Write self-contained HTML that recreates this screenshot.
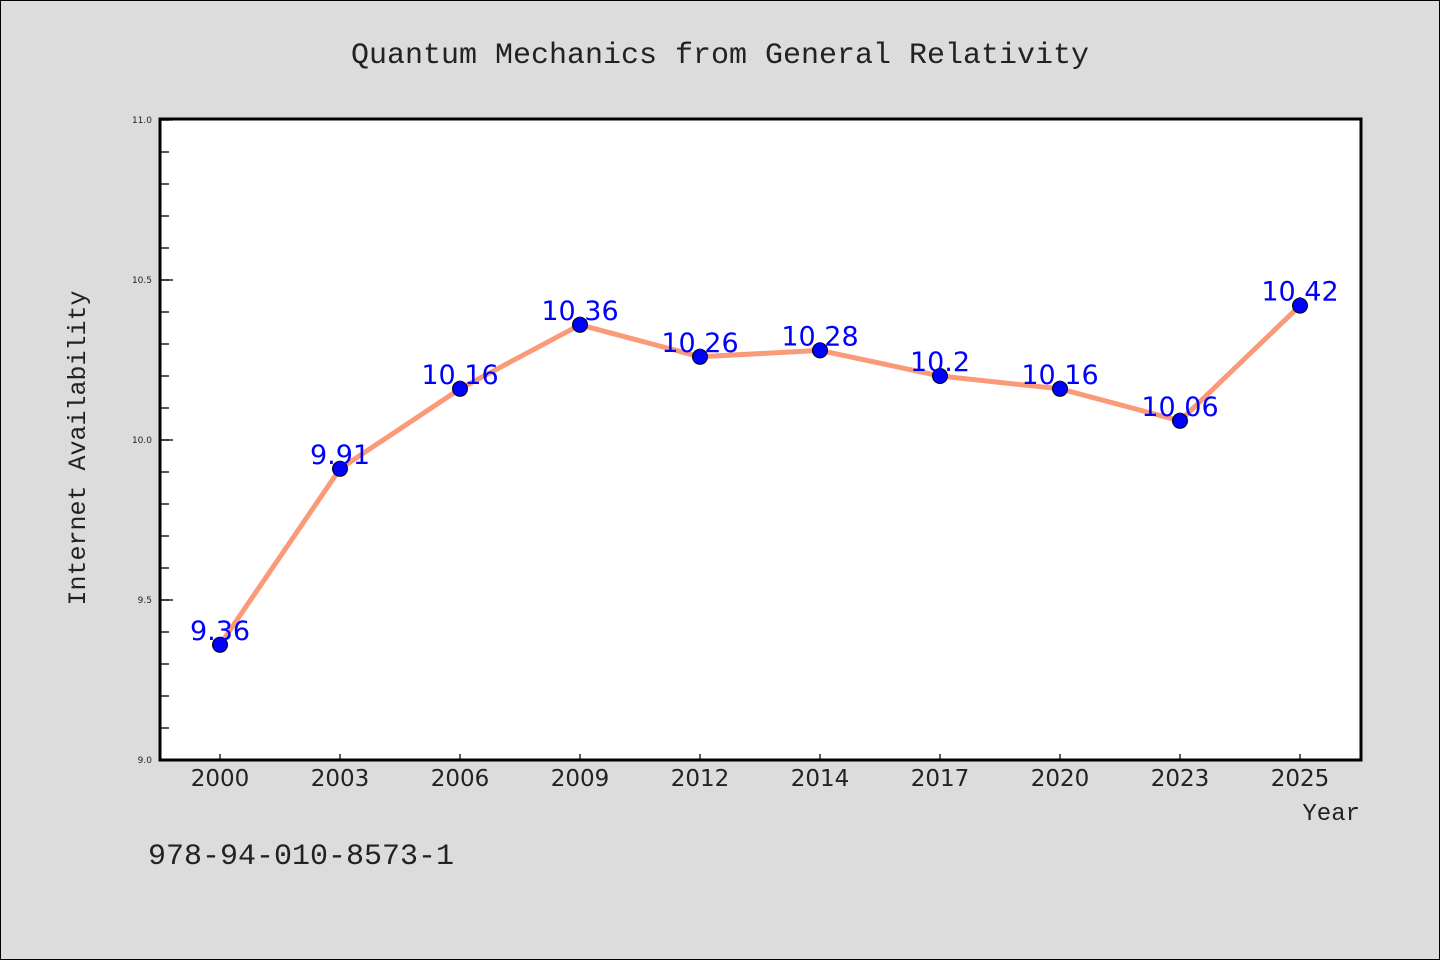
<!DOCTYPE html>
<html><head><meta charset="utf-8"><style>
body{margin:0;background:#dcdcdc;}
svg{display:block;}
</style></head><body>
<svg id="chart" width="1440" height="960" xmlns="http://www.w3.org/2000/svg">
<rect x="0.5" y="0.5" width="1439" height="959" fill="#dcdcdc" stroke="#000"/>
<text x="720" y="63" text-anchor="middle" font-family="'Liberation Mono',monospace" font-size="30" fill="#222">Quantum Mechanics from General Relativity</text>
<rect x="160" y="119" width="1201" height="641" fill="#fff"/>
<g id="yaxis"></g><g id="xaxis"></g>
<path id="line" fill="none" stroke="#fa9a78" stroke-width="5" stroke-linejoin="round"/>
<g id="points"></g>
<rect x="160" y="119" width="1201" height="641" fill="none" stroke="#000" stroke-width="3"/>
<text transform="translate(85,448) rotate(-90)" text-anchor="middle" font-family="'Liberation Mono',monospace" font-size="25" fill="#222">Internet Availability</text>
<text x="1360" y="820" text-anchor="end" font-family="'Liberation Mono',monospace" font-size="24" fill="#222">Year</text>
<text x="148" y="864" font-family="'Liberation Mono',monospace" font-size="30" fill="#222">978-94-010-8573-1</text>
</svg>
<script>
const categories=["2000","2003","2006","2009","2012","2014","2017","2020","2023","2025"];
const values=[9.36,9.91,10.16,10.36,10.26,10.28,10.2,10.16,10.06,10.42];
const valueLabels=["9.36","9.91","10.16","10.36","10.26","10.28","10.2","10.16","10.06","10.42"];
const yTicks=[9.0,9.5,10.0,10.5,11.0];
const yTickLabels=["9.0","9.5","10.0","10.5","11.0"];
const yMin=9,yMax=11,plotTop=120,plotBottom=760,plotLeft=160,step=120;
const NS="http://www.w3.org/2000/svg";
function y(v){return plotBottom-(v-yMin)/(yMax-yMin)*(plotBottom-plotTop);}
function x(i){return plotLeft+step/2+i*step;}
function mk(t,a,p){const e=document.createElementNS(NS,t);for(const k in a)e.setAttribute(k,a[k]);p.appendChild(e);return e;}
const ya=document.getElementById('yaxis'),xa=document.getElementById('xaxis'),pts=document.getElementById('points');
for(let k=0;k<=20;k++){
  const v=yMin+k*0.1;
  const t=mk('line',{x1:161,x2:169,y1:y(v),y2:y(v),stroke:'#000','stroke-width':1.3},ya);
  
  
}
yTicks.forEach((v,i)=>{
  const t=mk('line',{x1:161,x2:173,y1:y(v),y2:y(v),stroke:'#000','stroke-width':1.3},ya);
  
  
  const l=mk('text',{x:152,y:y(v)+3,'text-anchor':'end','font-family':"'DejaVu Sans',sans-serif",'font-size':9,fill:'#222'},ya);
  l.textContent=yTickLabels[i];
  
  
});
let d='';
categories.forEach((c,i)=>{
  const t=mk('line',{x1:x(i),x2:x(i),y1:754,y2:760,stroke:'#000','stroke-width':1.3},xa);
  
  
  const l=mk('text',{x:x(i),y:786,'text-anchor':'middle','font-family':"'DejaVu Sans',sans-serif",'font-size':23,fill:'#222'},xa);
  l.textContent=c;
  
  
  d+=(i?'L':'M')+x(i)+' '+y(values[i]);
});
document.getElementById('line').setAttribute('d',d);
values.forEach((v,i)=>{
  const c=mk('circle',{cx:x(i),cy:y(v),r:7.5,fill:'#0000ff',stroke:'#000','stroke-width':1},pts);
  
  
  const l=mk('text',{x:x(i),y:y(v)-5,'text-anchor':'middle','font-family':"'DejaVu Sans',sans-serif",'font-size':27,fill:'#0000ff'},pts);
  l.textContent=valueLabels[i];
  
  
});
</script>
</body></html>
